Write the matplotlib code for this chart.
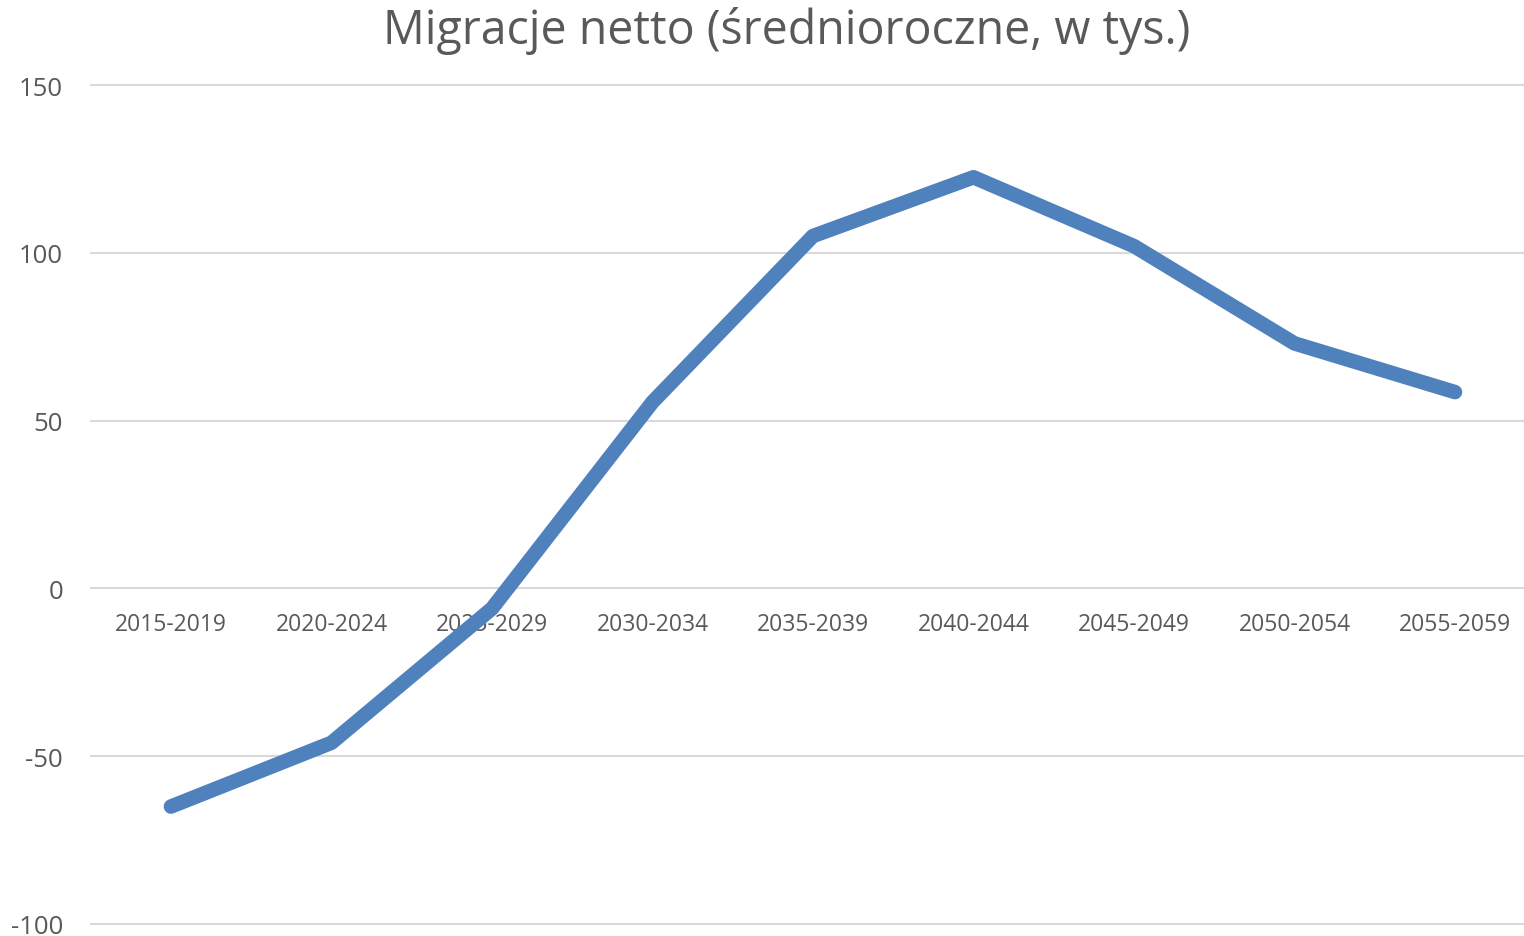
import matplotlib
matplotlib.use("Agg")
import matplotlib.pyplot as plt

categories = ["2015-2019", "2020-2024", "2025-2029", "2030-2034", "2035-2039",
              "2040-2044", "2045-2049", "2050-2054", "2055-2059"]
values = [-65, -46, -6, 55.5, 105, 122.5, 102, 73, 58.5]
yticks = [-100, -50, 0, 50, 100, 150]
title = "Migracje netto (średnioroczne, w tys.)"

plt.rcParams['font.family'] = ['Open Sans', 'DejaVu Sans']
grey = '#595959'

fig = plt.figure(figsize=(15.24, 9.37), dpi=100)
ax = fig.add_axes([91/1524, 1-925/937, 1-91/1524, (925-86)/937])
x = list(range(len(categories)))
ax.set_xlim(-0.498, 8.43)
ax.set_ylim(-100, 150)
for yv in yticks:
    ax.axhline(yv, color='#d9d9d9', lw=1.5, zorder=1, clip_on=False)
ax.plot(x, values, color='#4f81bd', lw=10.5, solid_capstyle='round',
        solid_joinstyle='round', zorder=3)
for s in ax.spines.values():
    s.set_visible(False)
ax.set_yticks(yticks)
ax.set_yticklabels([str(v) for v in yticks], fontsize=18.5, color=grey)
ax.tick_params(axis='y', length=0, pad=20)
ax.set_xticks([])
for xi, c in zip(x, categories):
    ax.text(xi, -10.7, c, ha='center', va='center', fontsize=16.5, color=grey, zorder=2)
fig.text(787/1524, 1-31/937, title, ha='center', va='center', fontsize=33.5, color=grey)
fig.savefig("out.png", dpi=100)
